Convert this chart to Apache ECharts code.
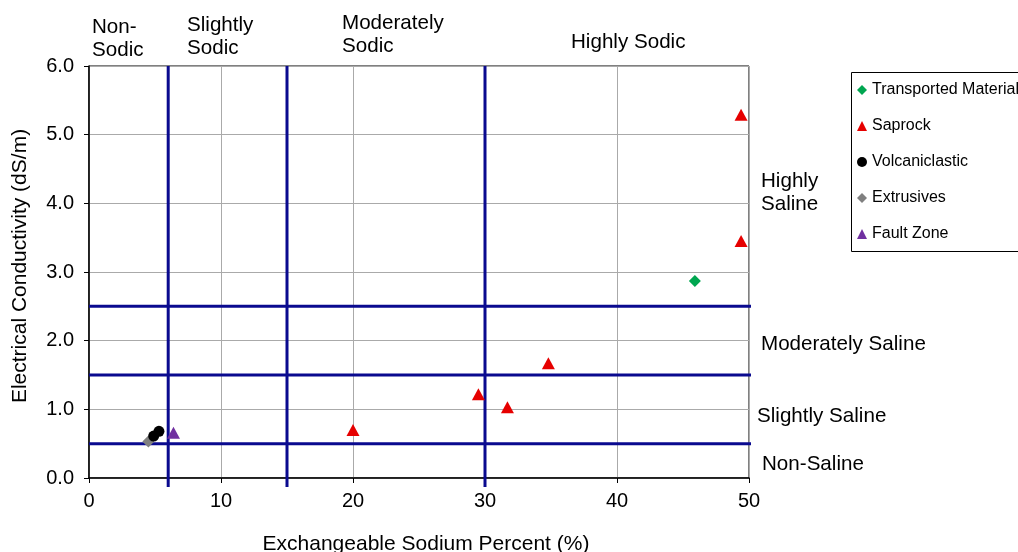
<!DOCTYPE html>
<html><head><meta charset="utf-8">
<script src="https://cdn.jsdelivr.net/npm/echarts@6/dist/echarts.min.js"></script>
<style>html,body{margin:0;padding:0;background:#fff}#c{width:1018px;height:552px}</style>
</head><body><div id="c"></div>
<script>
const seriesNames = ['Transported Material','Saprock','Volcaniclastic','Extrusives','Fault Zone'];
const transported = [[45.9, 2.87]];
const saprock = [[49.4, 5.29],[49.4, 3.45],[34.8, 1.67],[29.5, 1.22],[31.7, 1.03],[20.0, 0.70]];
const volcaniclastic = [[4.9, 0.61],[5.3, 0.68]];
const extrusives = [[4.5, 0.53]];
const faultZone = [[6.4, 0.66]];
const sodicBounds = [6, 15, 30];
const salineBounds = [0.5, 1.5, 2.5];
const xTicks = [0, 10, 20, 30, 40, 50];
const yTicks = [0, 1, 2, 3, 4, 5, 6];
const sodicLabels = ['Non-\nSodic','Slightly\nSodic','Moderately\nSodic','Highly Sodic'];
const salineLabels = ['Highly\nSaline','Moderately Saline','Slightly Saline','Non-Saline'];

const FONT = 'Liberation Sans, Arial, sans-serif';
const chart = echarts.init(document.getElementById('c'), null, {renderer:'canvas'});
const BLUE = '#0a0a8f';
const diamond = 'path://M0,-1L1,0L0,1L-1,0Z';
const tri = 'triangle';

const boundSeries = [];
sodicBounds.forEach(v => boundSeries.push({
  type:'line', data:[[v,-0.13],[v,6]], symbol:'none', clip:false, silent:true,
  lineStyle:{color:BLUE,width:3}, z:3
}));
salineBounds.forEach(v => boundSeries.push({
  type:'line', data:[[0,v],[50.25,v]], symbol:'none', clip:false, silent:true,
  lineStyle:{color:BLUE,width:3}, z:3
}));

const txt = (s, x, y, extra) => Object.assign({
  type:'text', left:x, top:y,
  style:{text:s, font:'20.6px ' + FONT, fill:'#000', lineHeight:23}
}, extra||{});

chart.setOption({
  animation:false,
  backgroundColor:'#fff',
  grid:{left:89, right:269, top:66, bottom:74, show:true, borderColor:'#000', borderWidth:1, outerBoundsMode:'none', containLabel:false},
  xAxis:{
    type:'value', min:xTicks[0], max:xTicks[xTicks.length-1], interval:10,
    axisLine:{show:true, lineStyle:{color:'#000', width:1.5}},
    axisTick:{show:true, inside:false, length:5, lineStyle:{color:'#000'}},
    axisLabel:{color:'#000', fontFamily:FONT, fontSize:20, margin:13},
    splitLine:{show:true, lineStyle:{color:'#aaaaaa', width:1}},
    name:'Exchangeable Sodium Percent (%)', nameLocation:'middle', nameGap:56,
    nameTextStyle:{color:'#000', fontFamily:FONT, fontSize:21, padding:[0,0,0,14]}
  },
  yAxis:{
    type:'value', min:yTicks[0], max:yTicks[yTicks.length-1], interval:1,
    axisLine:{show:true, lineStyle:{color:'#000', width:1.5}},
    axisTick:{show:true, inside:false, length:5, lineStyle:{color:'#000'}},
    axisLabel:{color:'#000', fontFamily:FONT, fontSize:20, margin:15, formatter:v=>v.toFixed(1)},
    splitLine:{show:true, lineStyle:{color:'#aaaaaa', width:1}},
    name:'Electrical Conductivity (dS/m)', nameLocation:'middle', nameGap:58,
    nameTextStyle:{color:'#000', fontFamily:FONT, fontSize:21, padding:[0,0,0,12]}
  },
  legend:{
    orient:'vertical', left:857, top:82, itemWidth:10, itemHeight:10, itemGap:20,
    padding:0,
    textStyle:{color:'#000', fontFamily:FONT, fontSize:16},
    data:[
      {name:seriesNames[0], icon:diamond},
      {name:seriesNames[1], icon:tri},
      {name:seriesNames[2], icon:'circle'},
      {name:seriesNames[3], icon:diamond},
      {name:seriesNames[4], icon:tri}
    ]
  },
  graphic:[
    {type:'rect', left:849, top:70, shape:{width:200, height:179}, style:{fill:'none', stroke:'#000', lineWidth:1}, z:-1},
    txt(sodicLabels[0], 92, 16),
    txt(sodicLabels[1], 187, 14),
    txt(sodicLabels[2], 342, 12),
    txt(sodicLabels[3], 571, 31),
    txt(salineLabels[0], 761, 170),
    txt(salineLabels[1], 761, 333),
    txt(salineLabels[2], 757, 405),
    txt(salineLabels[3], 762, 453)
  ],
  series: boundSeries.concat([
    {name:seriesNames[0], type:'scatter', data:transported, symbol:diamond, symbolSize:12, itemStyle:{color:'#00a650', opacity:1}, z:5},
    {name:seriesNames[1], type:'scatter', data:saprock, symbol:tri, symbolSize:[13,12], itemStyle:{color:'#e60000', opacity:1}, z:5},
    {name:seriesNames[3], type:'scatter', data:extrusives, symbol:diamond, symbolSize:12, itemStyle:{color:'#808080', opacity:1}, z:5},
    {name:seriesNames[2], type:'scatter', data:volcaniclastic, symbol:'circle', symbolSize:11, itemStyle:{color:'#000', opacity:1}, z:6},
    {name:seriesNames[4], type:'scatter', data:faultZone, symbol:tri, symbolSize:[13,12], itemStyle:{color:'#7030a0', opacity:1}, z:5}
  ])
});
</script></body></html>
